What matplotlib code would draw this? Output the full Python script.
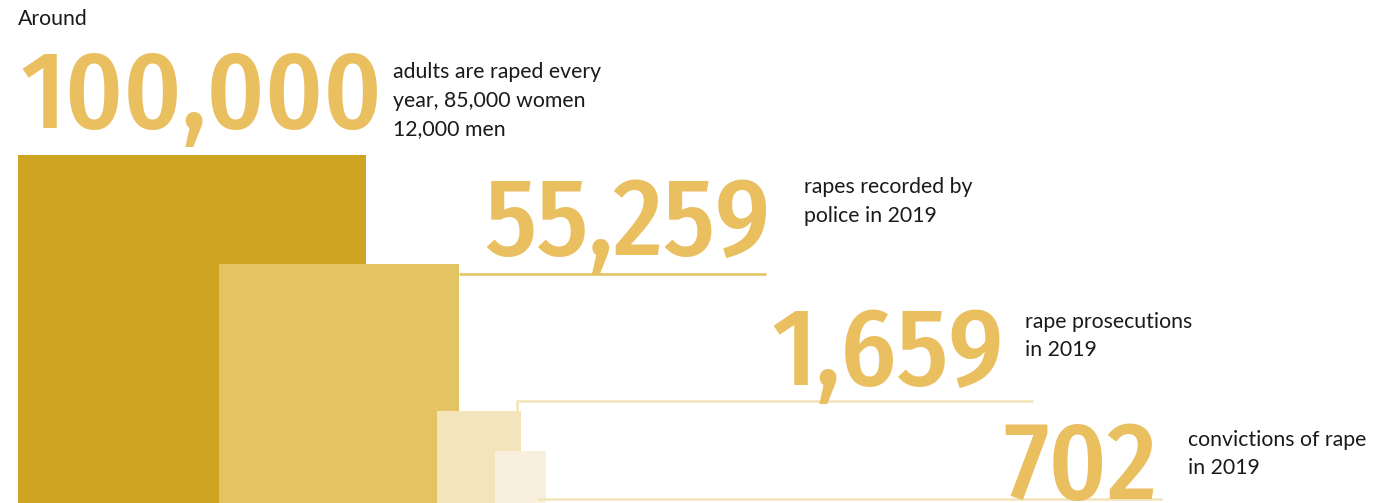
import matplotlib
matplotlib.use("Agg")
import matplotlib.pyplot as plt
from matplotlib.patches import Rectangle
from matplotlib import font_manager as fm

# ---- data ----
values = [100000, 55259, 1659, 702]
value_labels = ["100,000", "55,259", "1,659", "702"]
descriptions = [
    ["adults are raped every", "year, 85,000 women", "12,000 men"],
    ["rapes recorded by", "police in 2019"],
    ["rape prosecutions", "in 2019"],
    ["convictions of rape", "in 2019"],
]
prefix = "Around"

# ---- styles / layout (pixel coordinates) ----
square_colors = ["#CFA423", "#E4C363", "#F3E4BC", "#F8F0DD"]
line_colors = [None, "#E4C363", "#F3E4BC", "#F3E4BC"]
number_color = "#E9BF5F"
text_color = "#1a1a1a"
square_x = [18, 219, 437, 495]
square_top = [155, 264, 411, 451]
square_w = [348, 240, 84, 51]
num_left = [20, 484, 771, 1003]
num_base = [128, 255, 385, 499]
desc_x = [393, 804, 1025, 1188]
desc_base = [78, 193, 328, 446]
line_step = 28.5

W, H = 1381, 503


def pick(names):
    for n in names:
        try:
            fm.findfont(fm.FontProperties(family=n), fallback_to_default=False)
            return n
        except Exception:
            pass
    return "DejaVu Sans"

label_font = pick(["Lato", "Noto Sans"])
label_size = 15.3
num_font = pick(["Fira Sans Condensed", "Roboto Condensed", "DejaVu Sans"])

fig = plt.figure(figsize=(W / 100, H / 100), dpi=100)
ax = fig.add_axes([0, 0, 1, 1])
ax.set_xlim(0, W)
ax.set_ylim(H, 0)
ax.axis("off")

for i in range(len(values)):
    ax.add_patch(Rectangle((square_x[i], square_top[i]), square_w[i], square_w[i] + 20,
                           facecolor=square_colors[i], edgecolor="none", zorder=1 + i))

# connector lines
lw = 2.6 * 72 / 100
ax.plot([square_x[1] + square_w[1], 766], [274, 274], color=line_colors[1], lw=lw, zorder=10,
        solid_capstyle="butt")
ax.plot([517, 517, 1033], [square_top[2], 401, 401], color=line_colors[2], lw=lw, zorder=10,
        solid_capstyle="butt", solid_joinstyle="miter")
ax.plot([538, 1162], [499, 499], color=line_colors[3], lw=lw, zorder=10, solid_capstyle="butt")

for i in range(len(values)):
    ax.text(num_left[i], num_base[i], value_labels[i], family=[num_font, "DejaVu Sans"],
            fontsize=79, fontweight=500, color=number_color, ha="left", va="baseline", zorder=20)
    for j, line in enumerate(descriptions[i]):
        ax.text(desc_x[i], desc_base[i] + j * line_step, line, family=[label_font, "DejaVu Sans"],
                fontsize=label_size, color=text_color, ha="left", va="baseline", zorder=20)

ax.text(18, 25, prefix, family=[label_font, "DejaVu Sans"], fontsize=label_size,
        color=text_color, ha="left", va="baseline")

fig.savefig("out.png", dpi=100, facecolor="white")
